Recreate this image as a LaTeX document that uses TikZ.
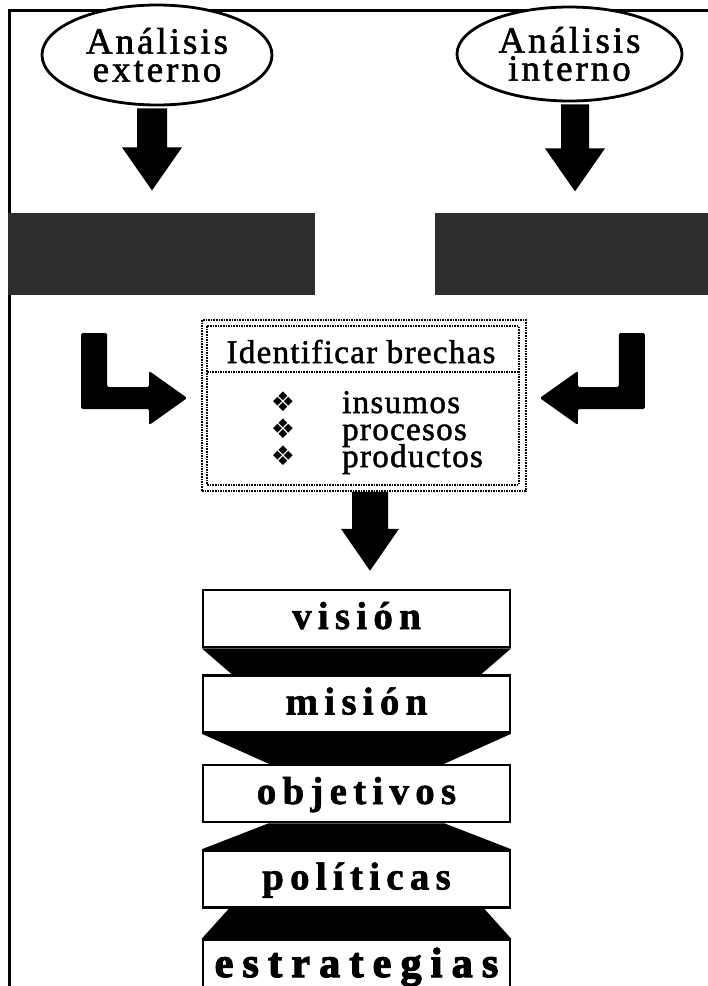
\documentclass[tikz,border=0pt]{standalone}
\usepackage{fontspec}
\setmainfont{Liberation Serif}
\newfontfamily\symfont{DejaVu Sans}
\newfontfamily\spacedfont[LetterSpace=8,FakeBold=1.5]{Liberation Serif}
\newfontfamily\titlefont[LetterSpace=4,FakeBold=1.5]{Liberation Serif}
\newfontfamily\itemfont[LetterSpace=4,FakeBold=1.5]{Liberation Serif}
\newfontfamily\stagefont[LetterSpace=16,BoldFeatures={FakeBold=1.5}]{Liberation Serif}
\newfontfamily\heavyfont[LetterSpace=22,BoldFeatures={FakeBold=3}]{Liberation Serif}
\usetikzlibrary{shapes.geometric,positioning,calc}

\begin{document}
\begin{tikzpicture}[x=1pt,y=-1pt,
  oval/.style={ellipse, draw, line width=2.8pt, fill=white, inner sep=0pt,
    align=center, font=\spacedfont\fontsize{37}{28}\selectfont},
  darkbox/.style={fill=black!82, inner sep=0pt},
  dotline/.style={densely dotted, line width=1.6pt},
  stagebox/.style={draw, line width=2.5pt, fill=white, minimum width=307pt,
    minimum height=57pt, text height=26pt, text depth=5pt, inner sep=0pt,
    font=\stagefont\bfseries\fontsize{39}{40}\selectfont},
  band/.style={fill=black}]

  \useasboundingbox (0,0) rectangle (708,986);

  % frame
  \draw[line width=3pt] (9,986) -- (9,10) -- (708,10);

  \node[oval, minimum width=230pt, minimum height=100pt] (ext) at (157,55)
    {Análisis\\externo};
  \node[oval, minimum width=225pt, minimum height=94pt] (int) at (569.5,54)
    {Análisis\\interno};

  \node[darkbox, minimum width=307pt, minimum height=82pt] (extres) at (161.5,254) {};
  \node[darkbox, minimum width=273pt, minimum height=82pt] (intres) at (571.5,254) {};

  \fill ([shift={(-20,2)}]ext.south) -- ++(0,39) -- ++(-15,0) -- ++(30,43)
    -- ++(30,-43) -- ++(-15,0) -- ++(0,-39) -- cycle;
  \fill ([shift={(-8.5,2)}]int.south) -- ++(0,44) -- ++(-16,0) -- ++(30,43)
    -- ++(30,-43) -- ++(-16,0) -- ++(0,-44) -- cycle;

  % gaps box
  \node[draw, dotline, minimum width=324pt, minimum height=171pt] (brechas)
    at (364,405.5) {};
  \draw[dotline] ([shift={(6,7)}]brechas.north west)
    rectangle ([shift={(-8,-7)}]brechas.south east);
  \draw[dotline] ([shift={(6,53)}]brechas.north west)
    -- ([shift={(-8,53)}]brechas.north east);

  \node[anchor=base, font=\titlefont\fontsize{33}{33}\selectfont] (title)
    at (361,363) {Identificar brechas};

  \node[anchor=base, inner sep=0pt, font=\symfont\fontsize{27}{27}\selectfont] (b1) at (283,411) {❖};
  \node[anchor=base, inner sep=0pt, font=\symfont\fontsize{27}{27}\selectfont] (b2) at (283,438) {❖};
  \node[anchor=base, inner sep=0pt, font=\symfont\fontsize{27}{27}\selectfont] (b3) at (283,465) {❖};
  \node[anchor=base west, inner sep=0pt, font=\itemfont\fontsize{33}{27}\selectfont]
    (w1) at (342,413) {insumos};
  \node[anchor=base west, inner sep=0pt, font=\itemfont\fontsize{33}{27}\selectfont]
    (w2) at (342,440) {procesos};
  \node[anchor=base west, inner sep=0pt, font=\itemfont\fontsize{33}{27}\selectfont]
    (w3) at (342,467) {productos};

  % bent arrows into the box
  \coordinate (ltip) at ([shift={(-14,-7.5)}]brechas.west);
  \coordinate (rtip) at ([shift={(13,-7.5)}]brechas.east);
  \fill[rounded corners=1.5pt] (ltip) -- ++(-38,-27) -- ++(0,16) -- ++(-42,0)
    -- ++(0,-54) -- ++(-26,0) -- ++(0,76) -- ++(68,0) -- ++(0,16) -- cycle;
  \fill[rounded corners=1.5pt] (rtip) -- ++(38,-27) -- ++(0,16) -- ++(41,0)
    -- ++(0,-54) -- ++(26,0) -- ++(0,76) -- ++(-67,0) -- ++(0,16) -- cycle;

  \fill ([shift={(-12,0)}]brechas.south) -- ++(0,37) -- ++(-11,0) -- ++(29,42)
    -- ++(29,-42) -- ++(-11,0) -- ++(0,-37) -- cycle;

  % stages
  \node[stagebox] (vision) at (356.5,618.5) {visión};
  \node[stagebox, below=26pt of vision] (mision) {misión};
  \node[stagebox, below=30pt of mision] (objetivos) {objetivos};
  \node[stagebox, below=26pt of objetivos] (politicas) {políticas};
  \node[stagebox, below=30pt of politicas, minimum height=53pt,
    font=\heavyfont\bfseries\fontsize{42}{44}\selectfont] (estrategias) {estrategias};

  \fill[band] (vision.south west) -- (vision.south east)
    -- ([xshift=-30]mision.north east) -- ([xshift=30]mision.north west) -- cycle;
  \fill[band] (mision.south west) -- (mision.south east)
    -- ([xshift=-67]objetivos.north east) -- ([xshift=67]objetivos.north west) -- cycle;
  \fill[band] ([xshift=67]objetivos.south west) -- ([xshift=-67]objetivos.south east)
    -- (politicas.north east) -- (politicas.north west) -- cycle;
  \fill[band] ([xshift=27]politicas.south west) -- ([xshift=-27]politicas.south east)
    -- (estrategias.north east) -- (estrategias.north west) -- cycle;

\end{tikzpicture}
\end{document}
